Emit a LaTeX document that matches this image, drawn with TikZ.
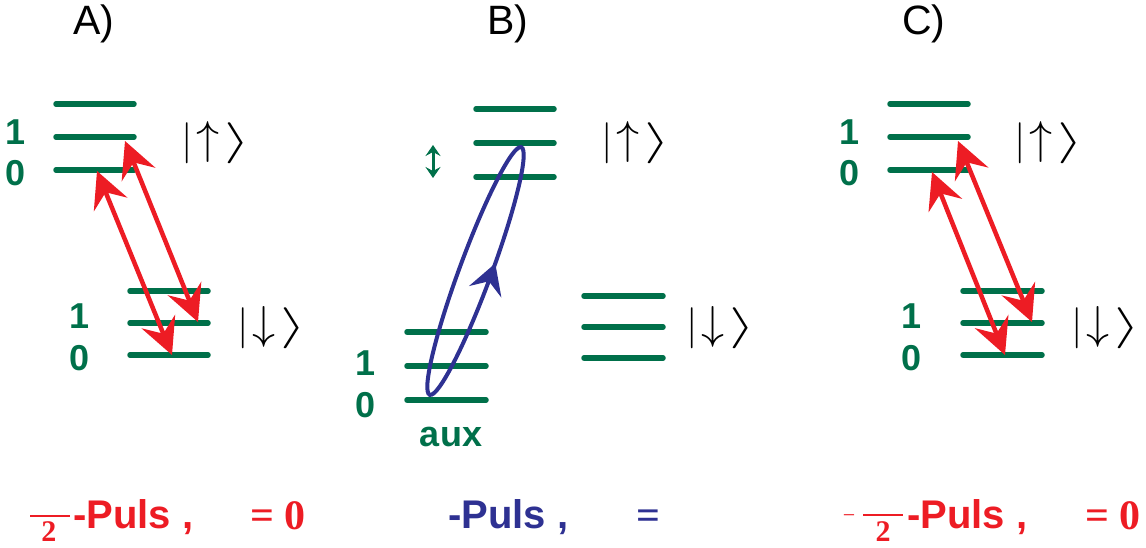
\documentclass[tikz,border=0pt]{standalone}
\usepackage{fontspec}
\usepackage{graphicx}
\setmainfont{Liberation Sans}
\newfontfamily\serifb{Liberation Serif}
\usetikzlibrary{arrows.meta,decorations.markings}
\definecolor{lvgreen}{RGB}{0,112,74}
\definecolor{arred}{RGB}{237,28,36}
\definecolor{elblue}{RGB}{46,49,146}
\newcommand\kpart[1]{\resizebox*{!}{41pt}{$#1$}}
\newcommand\ketup{\kpart{|}\kern3.3pt\kpart{\uparrow}\kern4.9pt\resizebox*{26pt}{41pt}{$\rangle$}}
\newcommand\ketdn{\kpart{|}\kern3.3pt\kpart{\downarrow}\kern4.9pt\resizebox*{26pt}{41pt}{$\rangle$}}
\tikzset{
 lvl/.style={draw=lvgreen, line width=5.5pt, line cap=round},
 tr/.style={draw=arred, line width=4.5pt, {Stealth[length=36pt,width=36pt,inset=13pt]}-{Stealth[length=36pt,width=36pt,inset=13pt]}},
 num/.style={text=lvgreen, font=\fontsize{36pt}{40pt}\selectfont\bfseries, inner sep=0},
 ttl/.style={font=\fontsize{41pt}{48pt}\selectfont, inner sep=0, anchor=base west},
 ket/.style={inner sep=0, anchor=west},
 puls/.style={font=\fontsize{40pt}{48pt}\selectfont\bfseries, inner sep=0, anchor=base west},
 eqn/.style={font=\fontsize{42pt}{48pt}\selectfont\serifb\bfseries, inner sep=0, anchor=base west},
 den/.style={font=\fontsize{30pt}{34pt}\selectfont\serifb\bfseries, inner sep=0, anchor=base},
 bar/.style={inner sep=0},
}
\begin{document}
\begin{tikzpicture}[x=1pt,y=-1pt]
\useasboundingbox (0,0) rectangle (1146,548);

% titles
\node[ttl] (tA) at (73,35) {A)};
\node[ttl] (tB) at (487,35) {B)};
\node[ttl] (tC) at (902,35) {C)};

% ---------- panel A ----------
\draw[lvl] (56,104) -- (134,104);
\draw[lvl] (56,137) -- (134,137);
\draw[lvl] (56,170) -- (134,170);
\draw[lvl] (130,291) -- (208,291);
\draw[lvl] (130,323) -- (208,323);
\draw[lvl] (130,355) -- (208,355);
\node[num] (A1u) at (16,132) {1};
\node[num] (A0u) at (16,173) {0};
\node[num] (A1d) at (80,316) {1};
\node[num] (A0d) at (80,358) {0};
\node[ket] (Aku) at (181.3,142.5) {\ketup};
\node[ket] (Akd) at (237.3,327.5) {\ketdn};
\coordinate (Aa1) at (97,171);
\coordinate (Ab1) at (172,355);
\coordinate (Aa2) at (125,141);
\coordinate (Ab2) at (198,322);
\draw[tr] (Aa1) -- (Ab1);
\draw[tr] (Aa2) -- (Ab2);

% ---------- panel B ----------
\draw[lvl] (476,109) -- (554,109);
\draw[lvl] (476,143) -- (554,143);
\draw[lvl] (476,177) -- (554,177);
\draw[lvl] (407,332) -- (486,332);
\draw[lvl] (407,366) -- (486,366);
\draw[lvl] (407,400) -- (486,400);
\draw[lvl] (584,296) -- (663,296);
\draw[lvl] (584,327) -- (663,327);
\draw[lvl] (584,358) -- (663,358);
\node[num] (B1) at (366,363) {1};
\node[num] (B0) at (366,405) {0};
\node[num] (aux) at (451,437) {aux};
\node[ket] (Bku) at (601.3,143) {\ketup};
\node[ket] (Bkd) at (686.3,327.5) {\ketdn};
\coordinate (dA) at (433,145);
\coordinate (dB) at (433,178);
\draw[lvgreen, line width=3pt, {Stealth[length=11pt,width=15pt,inset=4pt]}-{Stealth[length=11pt,width=15pt,inset=4pt]}] (dA) -- (dB);
\draw[draw=elblue, line width=4pt, rotate around={69.7:(475.5,271)},
  postaction={decorate},
  decoration={markings, mark=at position 0.776 with {\arrow{Stealth[length=30pt,width=34pt,inset=11pt]}}}]
  (475.5,271) ellipse [x radius=132pt, y radius=16pt];

% ---------- panel C ----------
\draw[lvl] (890,104) -- (968,104);
\draw[lvl] (890,137) -- (968,137);
\draw[lvl] (890,170) -- (968,170);
\draw[lvl] (963,291) -- (1042,291);
\draw[lvl] (963,323) -- (1042,323);
\draw[lvl] (963,355) -- (1042,355);
\node[num] (C1u) at (850,132) {1};
\node[num] (C0u) at (850,173) {0};
\node[num] (C1d) at (912,316) {1};
\node[num] (C0d) at (912,358) {0};
\node[ket] (Cku) at (1014.3,142.5) {\ketup};
\node[ket] (Ckd) at (1071.3,327.5) {\ketdn};
\coordinate (Ca1) at (932,172);
\coordinate (Cb1) at (1005,355);
\coordinate (Ca2) at (958,141);
\coordinate (Cb2) at (1032,322);
\draw[tr] (Ca1) -- (Cb1);
\draw[tr] (Ca2) -- (Cb2);

% ---------- bottom captions ----------
\node[bar, text=arred] (Abar) at (50,516) {\rule{40pt}{2.5pt}};
\node[den, text=arred] (A2) at (49,541) {2};
\node[puls, text=arred] (Ap) at (73,528) {-Puls ,};
\node[eqn, text=arred] (Ae) at (250,529) {= 0};

\node[puls, text=elblue] (Bp) at (448,528) {-Puls ,};
\node[eqn, text=elblue] (Be) at (636,529) {=};

\node[den, text=arred, font=\fontsize{22pt}{26pt}\selectfont\serifb] (Cm) at (849,522) {−};
\node[bar, text=arred] (Cbar) at (883,515) {\rule{40pt}{2.5pt}};
\node[den, text=arred] (C2) at (883,541) {2};
\node[puls, text=arred] (Cp) at (907,528) {-Puls ,};
\node[eqn, text=arred] (Ce) at (1085,529) {= 0};
\end{tikzpicture}
\end{document}
